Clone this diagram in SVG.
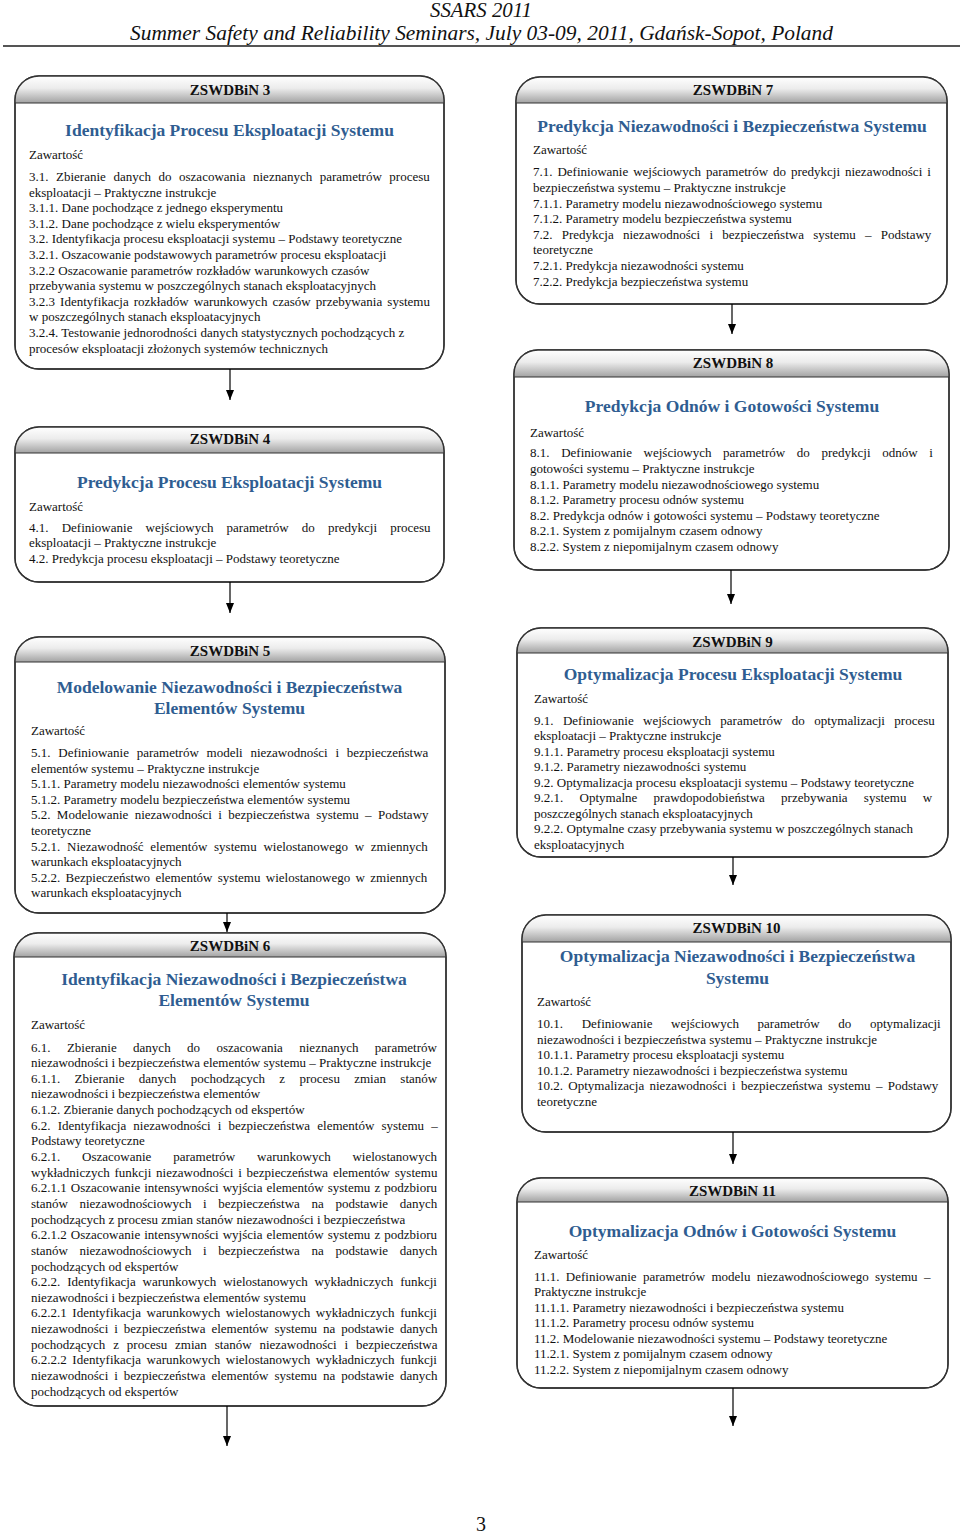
<svg xmlns="http://www.w3.org/2000/svg" width="960" height="1535" viewBox="0 0 960 1535">
<defs>
<linearGradient id="hg" x1="0" y1="0" x2="0" y2="1">
<stop offset="0" stop-color="#ffffff"/>
<stop offset="0.45" stop-color="#ececec"/>
<stop offset="1" stop-color="#a2a2a2"/>
</linearGradient>
<marker id="ah" markerUnits="userSpaceOnUse" markerWidth="10" markerHeight="8" refX="10" refY="4" orient="auto">
<path d="M0,0 L10,4 L0,8 Z" fill="#000"/>
</marker>
</defs>
<style>
.pg{font-family:"Liberation Serif","Times New Roman",serif;fill:#111}
.hdr{font-family:"Liberation Serif","Times New Roman",serif;font-weight:bold;font-size:15px;text-anchor:middle;fill:#111}
.ttl{font-family:"Liberation Serif","Times New Roman",serif;font-weight:bold;font-size:17.5px;text-anchor:middle;fill:#2f5d91}
.t{font-family:"Liberation Serif","Times New Roman",serif;font-size:13px;fill:#111}
.box{fill:#fff;stroke:#333;stroke-width:1.4}
.hb{fill:url(#hg)}
.hl{stroke:#333;stroke-width:1.2}
.conn line{stroke:#000;stroke-width:1.2;marker-end:url(#ah)}
</style>
<rect width="960" height="1535" fill="#fff"/>
<g id="page-header">
<text class="pg" x="481" y="17" font-size="20" font-style="italic" text-anchor="middle" textLength="102" lengthAdjust="spacingAndGlyphs">SSARS 2011</text>
<text class="pg" x="130" y="40" font-size="22" font-style="italic" textLength="703" lengthAdjust="spacingAndGlyphs">Summer Safety and Reliability Seminars, July 03-09, 2011, Gdańsk-Sopot, Poland</text>
<line x1="3" y1="46" x2="960" y2="46" stroke="#555" stroke-width="2"/>
</g>

<g id="box3">
<rect class="box" x="15" y="76" width="429" height="293" rx="24"/>
<path class="hb" d="M15,103 V100 A24,24 0 0 1 39,76 H420 A24,24 0 0 1 444,100 V103 Z"/>
<rect x="15" y="76" width="429" height="293" rx="24" fill="none" stroke="#333" stroke-width="1.4"/>
<line class="hl" x1="15" y1="103" x2="444" y2="103"/>
<text class="hdr" x="230" y="94.5">ZSWDBiN 3</text>
<text class="ttl" x="229.5" y="136">Identyfikacja Procesu Eksploatacji Systemu</text>
<text class="t" x="29" y="159">Zawartość</text>
<text class="t" x="29" y="181" style="word-spacing:4.3px">3.1. Zbieranie danych do oszacowania nieznanych parametrów procesu</text>
<text class="t" x="29" y="196.6">eksploatacji – Praktyczne instrukcje</text>
<text class="t" x="29" y="212.2">3.1.1. Dane pochodzące z jednego eksperymentu</text>
<text class="t" x="29" y="227.8">3.1.2. Dane pochodzące z wielu eksperymentów</text>
<text class="t" x="29" y="243.4">3.2. Identyfikacja procesu eksploatacji systemu – Podstawy teoretyczne</text>
<text class="t" x="29" y="259">3.2.1. Oszacowanie podstawowych parametrów procesu eksploatacji</text>
<text class="t" x="29" y="274.6">3.2.2 Oszacowanie parametrów rozkładów warunkowych czasów</text>
<text class="t" x="29" y="290.2">przebywania systemu w poszczególnych stanach eksploatacyjnych</text>
<text class="t" x="29" y="305.8" style="word-spacing:1.85px">3.2.3 Identyfikacja rozkładów warunkowych czasów przebywania systemu</text>
<text class="t" x="29" y="321.4">w poszczególnych stanach eksploatacyjnych</text>
<text class="t" x="29" y="337">3.2.4. Testowanie jednorodności danych statystycznych pochodzących z</text>
<text class="t" x="29" y="352.6">procesów eksploatacji złożonych systemów technicznych</text>
</g>

<g id="box4">
<rect class="box" x="15" y="427" width="429" height="155" rx="24"/>
<path class="hb" d="M15,453 V451 A24,24 0 0 1 39,427 H420 A24,24 0 0 1 444,451 V453 Z"/>
<rect x="15" y="427" width="429" height="155" rx="24" fill="none" stroke="#333" stroke-width="1.4"/>
<line class="hl" x1="15" y1="453" x2="444" y2="453"/>
<text class="hdr" x="230" y="444">ZSWDBiN 4</text>
<text class="ttl" x="229.5" y="487.5">Predykcja Procesu Eksploatacji Systemu</text>
<text class="t" x="29" y="511">Zawartość</text>
<text class="t" x="29" y="531.5" style="word-spacing:9.9px">4.1. Definiowanie wejściowych parametrów do predykcji procesu</text>
<text class="t" x="29" y="547">eksploatacji – Praktyczne instrukcje</text>
<text class="t" x="29" y="562.5">4.2. Predykcja procesu eksploatacji – Podstawy teoretyczne</text>
</g>

<g id="box5">
<rect class="box" x="15" y="637" width="430" height="276" rx="24"/>
<path class="hb" d="M15,662 V661 A24,24 0 0 1 39,637 H421 A24,24 0 0 1 445,661 V662 Z"/>
<rect x="15" y="637" width="430" height="276" rx="24" fill="none" stroke="#333" stroke-width="1.4"/>
<line class="hl" x1="15" y1="662" x2="445" y2="662"/>
<text class="hdr" x="230" y="656">ZSWDBiN 5</text>
<text class="ttl" x="229.5" y="692.5">Modelowanie Niezawodności i Bezpieczeństwa</text>
<text class="ttl" x="229.5" y="713.5">Elementów Systemu</text>
<text class="t" x="31" y="735">Zawartość</text>
<text class="t" x="31" y="757" style="word-spacing:4.5px">5.1. Definiowanie parametrów modeli niezawodności i bezpieczeństwa</text>
<text class="t" x="31" y="772.6">elementów systemu – Praktyczne instrukcje</text>
<text class="t" x="31" y="788.2">5.1.1. Parametry modelu niezawodności elementów systemu</text>
<text class="t" x="31" y="803.8">5.1.2. Parametry modelu bezpieczeństwa elementów systemu</text>
<text class="t" x="31" y="819.4" style="word-spacing:3.1px">5.2. Modelowanie niezawodności i bezpieczeństwa systemu – Podstawy</text>
<text class="t" x="31" y="835">teoretyczne</text>
<text class="t" x="31" y="850.6" style="word-spacing:3.5px">5.2.1. Niezawodność elementów systemu wielostanowego w zmiennych</text>
<text class="t" x="31" y="866.2">warunkach eksploatacyjnych</text>
<text class="t" x="31" y="881.8" style="word-spacing:2.1px">5.2.2. Bezpieczeństwo elementów systemu wielostanowego w zmiennych</text>
<text class="t" x="31" y="897.4">warunkach eksploatacyjnych</text>
</g>

<g id="box6">
<rect class="box" x="14" y="933" width="432" height="473" rx="24"/>
<path class="hb" d="M14,957 A24,24 0 0 1 38,933 H422 A24,24 0 0 1 446,957 Z"/>
<rect x="14" y="933" width="432" height="473" rx="24" fill="none" stroke="#333" stroke-width="1.4"/>
<line class="hl" x1="14" y1="957" x2="446" y2="957"/>
<text class="hdr" x="230" y="950.5">ZSWDBiN 6</text>
<text class="ttl" x="234" y="984.5">Identyfikacja Niezawodności i Bezpieczeństwa</text>
<text class="ttl" x="234" y="1005.5">Elementów Systemu</text>
<text class="t" x="31" y="1028.5">Zawartość</text>
<text class="t" x="31" y="1051.5" style="word-spacing:13.15px">6.1. Zbieranie danych do oszacowania nieznanych parametrów</text>
<text class="t" x="31" y="1067.1">niezawodności i bezpieczeństwa elementów systemu – Praktyczne instrukcje</text>
<text class="t" x="31" y="1082.8" style="word-spacing:11.1px">6.1.1. Zbieranie danych pochodzących z procesu zmian stanów</text>
<text class="t" x="31" y="1098.4">niezawodności i bezpieczeństwa elementów</text>
<text class="t" x="31" y="1114.1">6.1.2. Zbieranie danych pochodzących od ekspertów</text>
<text class="t" x="31" y="1129.7" style="word-spacing:3.9px">6.2. Identyfikacja niezawodności i bezpieczeństwa elementów systemu –</text>
<text class="t" x="31" y="1145.3">Podstawy teoretyczne</text>
<text class="t" x="31" y="1161" style="word-spacing:18.55px">6.2.1. Oszacowanie parametrów warunkowych wielostanowych</text>
<text class="t" x="31" y="1176.6" style="word-spacing:1.55px">wykładniczych funkcji niezawodności i bezpieczeństwa elementów systemu</text>
<text class="t" x="31" y="1192.3" style="word-spacing:0.85px">6.2.1.1 Oszacowanie intensywności wyjścia elementów systemu z podzbioru</text>
<text class="t" x="31" y="1207.9" style="word-spacing:8.4px">stanów niezawodnościowych i bezpieczeństwa na podstawie danych</text>
<text class="t" x="31" y="1223.5">pochodzących z procesu zmian stanów niezawodności i bezpieczeństwa</text>
<text class="t" x="31" y="1239.2" style="word-spacing:0.85px">6.2.1.2 Oszacowanie intensywności wyjścia elementów systemu z podzbioru</text>
<text class="t" x="31" y="1254.8" style="word-spacing:8.4px">stanów niezawodnościowych i bezpieczeństwa na podstawie danych</text>
<text class="t" x="31" y="1270.5">pochodzących od ekspertów</text>
<text class="t" x="31" y="1286.1" style="word-spacing:3.65px">6.2.2. Identyfikacja warunkowych wielostanowych wykładniczych funkcji</text>
<text class="t" x="31" y="1301.7">niezawodności i bezpieczeństwa elementów systemu</text>
<text class="t" x="31" y="1317.4" style="word-spacing:2.35px">6.2.2.1 Identyfikacja warunkowych wielostanowych wykładniczych funkcji</text>
<text class="t" x="31" y="1333" style="word-spacing:2.74px">niezawodności i bezpieczeństwa elementów systemu na podstawie danych</text>
<text class="t" x="31" y="1348.7" style="word-spacing:4.6px">pochodzących z procesu zmian stanów niezawodności i bezpieczeństwa</text>
<text class="t" x="31" y="1364.3" style="word-spacing:2.35px">6.2.2.2 Identyfikacja warunkowych wielostanowych wykładniczych funkcji</text>
<text class="t" x="31" y="1379.9" style="word-spacing:2.74px">niezawodności i bezpieczeństwa elementów systemu na podstawie danych</text>
<text class="t" x="31" y="1395.6">pochodzących od ekspertów</text>
</g>

<g id="box7">
<rect class="box" x="516" y="77" width="431" height="227" rx="24"/>
<path class="hb" d="M516,103 V101 A24,24 0 0 1 540,77 H923 A24,24 0 0 1 947,101 V103 Z"/>
<rect x="516" y="77" width="431" height="227" rx="24" fill="none" stroke="#333" stroke-width="1.4"/>
<line class="hl" x1="516" y1="103" x2="947" y2="103"/>
<text class="hdr" x="733" y="94.5">ZSWDBiN 7</text>
<text class="ttl" x="732" y="131.5">Predykcja Niezawodności i Bezpieczeństwa Systemu</text>
<text class="t" x="533" y="154">Zawartość</text>
<text class="t" x="533" y="176.3" style="word-spacing:1.7px">7.1. Definiowanie wejściowych parametrów do predykcji niezawodności i</text>
<text class="t" x="533" y="191.9">bezpieczeństwa systemu – Praktyczne instrukcje</text>
<text class="t" x="533" y="207.5">7.1.1. Parametry modelu niezawodnościowego systemu</text>
<text class="t" x="533" y="223.1">7.1.2. Parametry modelu bezpieczeństwa systemu</text>
<text class="t" x="533" y="238.7" style="word-spacing:6px">7.2. Predykcja niezawodności i bezpieczeństwa systemu – Podstawy</text>
<text class="t" x="533" y="254.3">teoretyczne</text>
<text class="t" x="533" y="269.9">7.2.1. Predykcja niezawodności systemu</text>
<text class="t" x="533" y="285.5">7.2.2. Predykcja bezpieczeństwa systemu</text>
</g>

<g id="box8">
<rect class="box" x="514" y="350" width="435" height="220" rx="24"/>
<path class="hb" d="M514,377 V374 A24,24 0 0 1 538,350 H925 A24,24 0 0 1 949,374 V377 Z"/>
<rect x="514" y="350" width="435" height="220" rx="24" fill="none" stroke="#333" stroke-width="1.4"/>
<line class="hl" x1="514" y1="377" x2="949" y2="377"/>
<text class="hdr" x="733" y="367.5">ZSWDBiN 8</text>
<text class="ttl" x="732" y="412">Predykcja Odnów i Gotowości Systemu</text>
<text class="t" x="530" y="436.5">Zawartość</text>
<text class="t" x="530" y="457.3" style="word-spacing:8.4px">8.1. Definiowanie wejściowych parametrów do predykcji odnów i</text>
<text class="t" x="530" y="472.9">gotowości systemu – Praktyczne instrukcje</text>
<text class="t" x="530" y="488.5">8.1.1. Parametry modelu niezawodnościowego systemu</text>
<text class="t" x="530" y="504.1">8.1.2. Parametry procesu odnów systemu</text>
<text class="t" x="530" y="519.7">8.2. Predykcja odnów i gotowości systemu – Podstawy teoretyczne</text>
<text class="t" x="530" y="535.3">8.2.1. System z pomijalnym czasem odnowy</text>
<text class="t" x="530" y="550.9">8.2.2. System z niepomijalnym czasem odnowy</text>
</g>

<g id="box9">
<rect class="box" x="517" y="628" width="431" height="229" rx="24"/>
<path class="hb" d="M517,653 V652 A24,24 0 0 1 541,628 H924 A24,24 0 0 1 948,652 V653 Z"/>
<rect x="517" y="628" width="431" height="229" rx="24" fill="none" stroke="#333" stroke-width="1.4"/>
<line class="hl" x1="517" y1="653" x2="948" y2="653"/>
<text class="hdr" x="732.5" y="646.5">ZSWDBiN 9</text>
<text class="ttl" x="733" y="680">Optymalizacja Procesu Eksploatacji Systemu</text>
<text class="t" x="534" y="703">Zawartość</text>
<text class="t" x="534" y="724.7" style="word-spacing:6.15px">9.1. Definiowanie wejściowych parametrów do optymalizacji procesu</text>
<text class="t" x="534" y="740.2">eksploatacji – Praktyczne instrukcje</text>
<text class="t" x="534" y="755.7">9.1.1. Parametry procesu eksploatacji systemu</text>
<text class="t" x="534" y="771.2">9.1.2. Parametry niezawodności systemu</text>
<text class="t" x="534" y="786.7">9.2. Optymalizacja procesu eksploatacji systemu – Podstawy teoretyczne</text>
<text class="t" x="534" y="802.2" style="word-spacing:13.05px">9.2.1. Optymalne prawdopodobieństwa przebywania systemu w</text>
<text class="t" x="534" y="817.7">poszczególnych stanach eksploatacyjnych</text>
<text class="t" x="534" y="833.2">9.2.2. Optymalne czasy przebywania systemu w poszczególnych stanach</text>
<text class="t" x="534" y="848.7">eksploatacyjnych</text>
</g>

<g id="box10">
<rect class="box" x="522" y="915" width="429" height="217" rx="24"/>
<path class="hb" d="M522,942 V939 A24,24 0 0 1 546,915 H927 A24,24 0 0 1 951,939 V942 Z"/>
<rect x="522" y="915" width="429" height="217" rx="24" fill="none" stroke="#333" stroke-width="1.4"/>
<line class="hl" x1="522" y1="942" x2="951" y2="942"/>
<text class="hdr" x="736.5" y="933">ZSWDBiN 10</text>
<text class="ttl" x="737.5" y="962">Optymalizacja Niezawodności i Bezpieczeństwa</text>
<text class="ttl" x="737.5" y="983.5">Systemu</text>
<text class="t" x="537" y="1005.5">Zawartość</text>
<text class="t" x="537" y="1028" style="word-spacing:15.4px">10.1. Definiowanie wejściowych parametrów do optymalizacji</text>
<text class="t" x="537" y="1043.6">niezawodności i bezpieczeństwa systemu – Praktyczne instrukcje</text>
<text class="t" x="537" y="1059.2">10.1.1. Parametry procesu eksploatacji systemu</text>
<text class="t" x="537" y="1074.8">10.1.2. Parametry niezawodności i bezpieczeństwa systemu</text>
<text class="t" x="537" y="1090.4" style="word-spacing:2.1px">10.2. Optymalizacja niezawodności i bezpieczeństwa systemu – Podstawy</text>
<text class="t" x="537" y="1106">teoretyczne</text>
</g>

<g id="box11">
<rect class="box" x="517" y="1178" width="431" height="210" rx="24"/>
<path class="hb" d="M517,1202 A24,24 0 0 1 541,1178 H924 A24,24 0 0 1 948,1202 Z"/>
<rect x="517" y="1178" width="431" height="210" rx="24" fill="none" stroke="#333" stroke-width="1.4"/>
<line class="hl" x1="517" y1="1202" x2="948" y2="1202"/>
<text class="hdr" x="732.5" y="1196">ZSWDBiN 11</text>
<text class="ttl" x="732.5" y="1237">Optymalizacja Odnów i Gotowości Systemu</text>
<text class="t" x="534" y="1259">Zawartość</text>
<text class="t" x="534" y="1280.5" style="word-spacing:3.1px">11.1. Definiowanie parametrów modelu niezawodnościowego systemu –</text>
<text class="t" x="534" y="1296">Praktyczne instrukcje</text>
<text class="t" x="534" y="1311.5">11.1.1. Parametry niezawodności i bezpieczeństwa systemu</text>
<text class="t" x="534" y="1327">11.1.2. Parametry procesu odnów systemu</text>
<text class="t" x="534" y="1342.5">11.2. Modelowanie niezawodności systemu – Podstawy teoretyczne</text>
<text class="t" x="534" y="1358">11.2.1. System z pomijalnym czasem odnowy</text>
<text class="t" x="534" y="1373.5">11.2.2. System z niepomijalnym czasem odnowy</text>
</g>

<g id="connectors" class="conn">
<line x1="230" y1="369" x2="230" y2="400"/>
<line x1="230" y1="582" x2="230" y2="613"/>
<line x1="227" y1="913" x2="227" y2="932"/>
<line x1="227" y1="1406" x2="227" y2="1446"/>
<line x1="732" y1="304" x2="732" y2="334"/>
<line x1="731" y1="570" x2="731" y2="604"/>
<line x1="733" y1="857" x2="733" y2="885"/>
<line x1="733" y1="1132" x2="733" y2="1164"/>
<line x1="733" y1="1388" x2="733" y2="1426"/>
</g>

<text class="pg" x="481" y="1531" font-size="20" text-anchor="middle">3</text>
</svg>
